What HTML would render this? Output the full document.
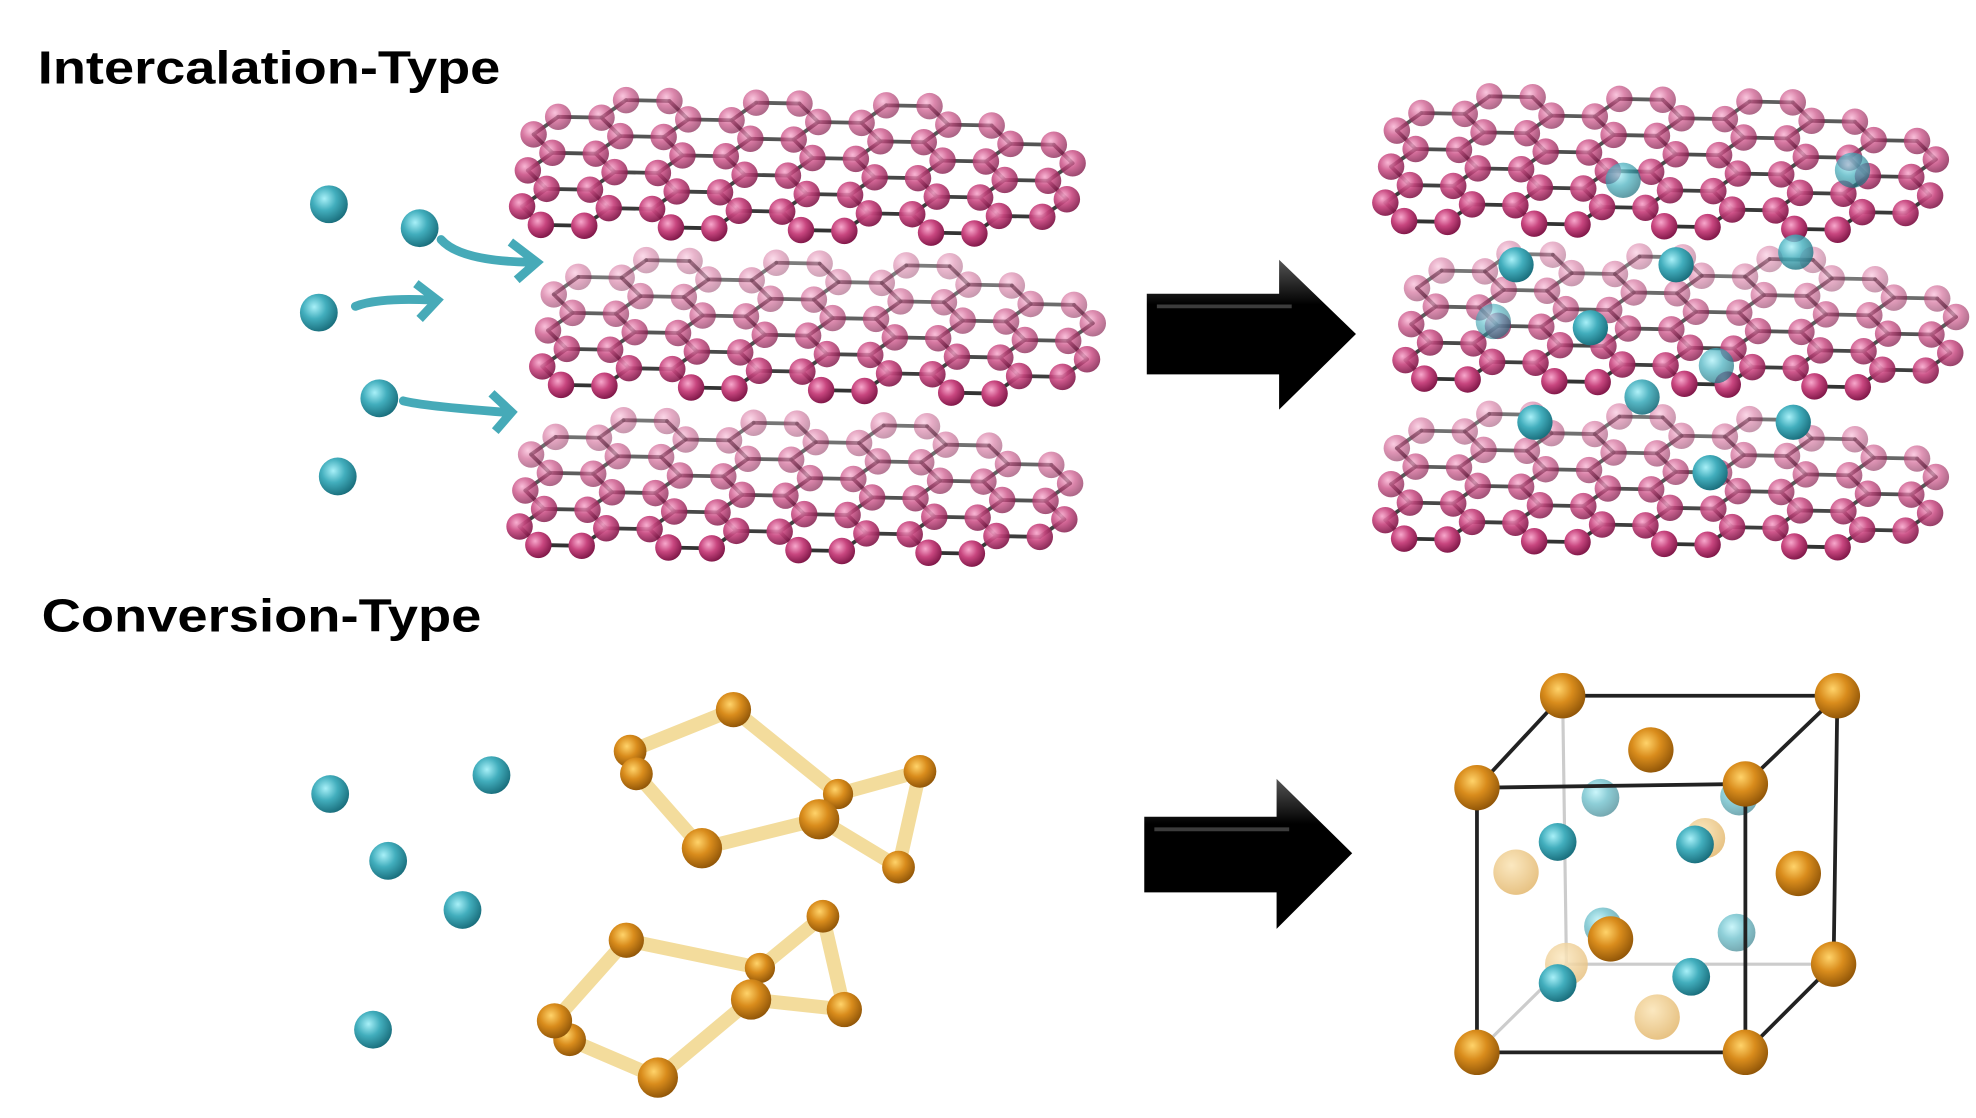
<!DOCTYPE html>
<html><head><meta charset="utf-8"><style>html,body{margin:0;padding:0;background:#fff;width:1976px;height:1118px;overflow:hidden}svg{display:block}</style></head>
<body>
<svg id="s" width="1976" height="1118" viewBox="0 0 1568 887" xmlns="http://www.w3.org/2000/svg">
<defs>
<radialGradient id="gp" cx="0.38" cy="0.35" r="0.7"><stop offset="0" stop-color="#f7a8cc"/><stop offset="0.45" stop-color="#c8467f"/><stop offset="1" stop-color="#7a1444"/></radialGradient>
<radialGradient id="gc" cx="0.38" cy="0.35" r="0.7"><stop offset="0" stop-color="#a8f0f8"/><stop offset="0.45" stop-color="#42aebd"/><stop offset="1" stop-color="#176a78"/></radialGradient>
<radialGradient id="gg" cx="0.4" cy="0.35" r="0.7"><stop offset="0" stop-color="#ffd36a"/><stop offset="0.45" stop-color="#d98c1c"/><stop offset="1" stop-color="#8a5106"/></radialGradient>
<radialGradient id="gl" cx="0.4" cy="0.35" r="0.7"><stop offset="0" stop-color="#fbe8c0"/><stop offset="1" stop-color="#e6c080"/></radialGradient>
<linearGradient id="ga" x1="0" y1="0" x2="0" y2="1"><stop offset="0" stop-color="#555"/><stop offset="0.3" stop-color="#000"/><stop offset="1" stop-color="#000"/></linearGradient>
</defs>
<text x="30" y="66" font-family="Liberation Sans, sans-serif" font-weight="bold" font-size="37" textLength="367" lengthAdjust="spacingAndGlyphs">Intercalation-Type</text>
<text x="33" y="501" font-family="Liberation Sans, sans-serif" font-weight="bold" font-size="37" textLength="349" lengthAdjust="spacingAndGlyphs">Conversion-Type</text>
<g id="content"></g>
</svg>
<script>
var NS="http://www.w3.org/2000/svg",root=document.getElementById('content');
function el(t,a,p){var e=document.createElementNS(NS,t);for(var k in a)e.setAttribute(k,a[k]);(p||root).appendChild(e);return e;}
function ball(x,y,r,f,op){el('circle',{cx:x,cy:y,r:r,fill:'url(#'+f+')','fill-opacity':op==null?1:op});}
function line(x1,y1,x2,y2,c,w,op){el('line',{x1:x1,y1:y1,x2:x2,y2:y2,stroke:c,'stroke-width':w,'stroke-linecap':'round','stroke-opacity':op==null?1:op});}
function sheet(x0,yf,fade){
 var b=33,W=420,D=185,verts={},edges=[];
 function key(u,w){return Math.round(u*10)+','+Math.round(w*10);}
 for(var i=-1;i<14;i++)for(var j=-1;j<8;j++){
  var cu=i*1.5*b, cw=j*Math.sqrt(3)*b+(i%2?Math.sqrt(3)*b/2:0);
  var nu=(cu-W/2)/(W/2), nw=(cw-D/2)/(D/2);
  if(Math.pow(Math.abs(nu),4)+Math.pow(Math.abs(nw),4)>0.85)continue;
  var vs=[];
  for(var a=0;a<6;a++){var th=a*Math.PI/3;var u=cu+b*Math.cos(th),w=cw+b*Math.sin(th);var k=key(u,w);verts[k]=[u,w];vs.push(k);}
  for(var a=0;a<6;a++)edges.push([vs[a],vs[(a+1)%6]]);
 }
 var minu=1e9,maxu=-1e9,minw=1e9;
 for(var k in verts){minu=Math.min(minu,verts[k][0]);maxu=Math.max(maxu,verts[k][0]);minw=Math.min(minw,verts[k][1]);}
 var sc=430/(maxu-minu);
 function P(v){var u=(v[0]-minu)*sc,w=v[1]-minw;return [x0+u+w*0.08, yf-w*0.5+u*0.02];}
 var seen={};
 edges.forEach(function(e){var id=e[0]<e[1]?e[0]+'|'+e[1]:e[1]+'|'+e[0];if(seen[id])return;seen[id]=1;
  var a=P(verts[e[0]]),c=P(verts[e[1]]);var wv=(verts[e[0]][1]+verts[e[1]][1])/2-minw;var f=Math.max(0,Math.min(1,wv/D));
  line(a[0],a[1],c[0],c[1],'#333',3,1-f*fade*0.6);});
 var arr=Object.keys(verts).map(function(k){return verts[k];});
 arr.sort(function(p,q){return q[1]-p[1];});
 arr.forEach(function(v){var p=P(v);var f=Math.max(0,Math.min(1,(v[1]-minw)/D));ball(p[0],p[1],10.5,'gp',1-f*fade);});
}
sheet(412,178,0.35);sheet(428,305,0.6);sheet(410,432,0.55);
sheet(1097,175,0.35);sheet(1113,300,0.6);sheet(1097,427,0.55);
[[261,162],[333,181],[253,248],[301,316],[268,378]].forEach(function(p){ball(p[0],p[1],15,'gc');});
function tarrow(d,tip,a1,a2){el('path',{d:d,fill:'none',stroke:'#46aab8','stroke-width':7,'stroke-linecap':'round'});el('path',{d:'M'+a1+' L'+tip+' L'+a2,fill:'none',stroke:'#46aab8','stroke-width':7,'stroke-linejoin':'miter','stroke-linecap':'butt'});}
tarrow('M350 190 Q365 207 420 208','426 208','405 192','410 222');
tarrow('M282 243 Q300 236 342 238','347 238','330 225','333 253');
tarrow('M320 318 Q335 322 400 327','406 327','390 312','393 342');
[[1288,143,0.7],[1470,135,0.7],[1203,210,1],[1330,210,1],[1425,200,0.8],[1185,255,0.6],[1262,260,1],[1362,290,0.7],[1303,315,0.9],[1218,335,1],[1423,335,1],[1357,375,1]].forEach(function(p){ball(p[0],p[1],14,'gc',p[2]);});
function barrow(x0,x1,xt,yb1,yb2,yh1,yh2,yt){el('path',{d:'M'+x0+' '+yb1+' L'+x1+' '+yb1+' L'+x1+' '+yh1+' L'+xt+' '+yt+' L'+x1+' '+yh2+' L'+x1+' '+yb2+' L'+x0+' '+yb2+' Z',fill:'url(#ga)'});
 el('path',{d:'M'+(x0+8)+' '+(yb1+10)+' L'+(x1+10)+' '+(yb1+10),stroke:'#777','stroke-width':3,'stroke-opacity':0.5});}
barrow(910,1015,1076,233,297,206,325,265);
barrow(908,1013,1073,648,708,618,737,677);
[[262,630],[390,615],[308,683],[367,722],[296,817]].forEach(function(p){ball(p[0],p[1],15,'gc');});
function poly(pts,bonds){bonds.forEach(function(bd){var a=pts[bd[0]],c=pts[bd[1]];line(a[0],a[1],c[0],c[1],'#f3dc9c',11);});
 pts.forEach(function(p){ball(p[0],p[1],p[2],'gg');});}
poly([[582,563,14],[500,596,13],[505,614,13],[665,630,12],[730,612,13],[713,688,13],[650,650,16],[557,673,16]],
 [[0,3],[3,4],[4,5],[5,6],[6,7],[7,2],[1,0],[6,3]]);
poly([[497,746,14],[603,768,12],[653,727,13],[670,801,14],[596,793,16],[522,855,16],[452,825,13],[440,810,14]],
 [[0,1],[1,2],[2,3],[3,4],[4,5],[5,6],[7,0],[1,4]]);
var F=[[1172,625],[1385,622],[1385,835],[1172,835]],B=[[1240,552],[1458,552],[1455,765],[1243,765]];
line(B[0][0],B[0][1],B[3][0],B[3][1],'#ccc',2.5);line(B[3][0],B[3][1],B[2][0],B[2][1],'#ccc',2.5);line(B[3][0],B[3][1],F[3][0],F[3][1],'#ccc',2.5);
ball(1243,765,17,'gl',0.85);ball(1203,692,18,'gl');ball(1315,807,18,'gl');ball(1353,665,16,'gl');
ball(1270,633,15,'gc',0.6);ball(1380,632,15,'gc',0.6);ball(1272,735,15,'gc',0.6);ball(1378,740,15,'gc',0.6);
line(B[0][0],B[0][1],B[1][0],B[1][1],'#222',3);line(B[1][0],B[1][1],B[2][0],B[2][1],'#222',3);
line(B[0][0],B[0][1],F[0][0],F[0][1],'#222',3);line(B[1][0],B[1][1],F[1][0],F[1][1],'#222',3);line(B[2][0],B[2][1],F[2][0],F[2][1],'#222',3);
ball(1310,595,18,'gg');ball(1427,693,18,'gg');ball(1278,745,18,'gg');
ball(1236,668,15,'gc');ball(1345,670,15,'gc');ball(1236,780,15,'gc');ball(1342,775,15,'gc');
for(var i=0;i<4;i++){var a=F[i],c=F[(i+1)%4];line(a[0],a[1],c[0],c[1],'#222',3);}
[B[0],B[1],B[2]].forEach(function(p){ball(p[0],p[1],18,'gg');});F.forEach(function(p){ball(p[0],p[1],18,'gg');});
</script>
</body></html>
